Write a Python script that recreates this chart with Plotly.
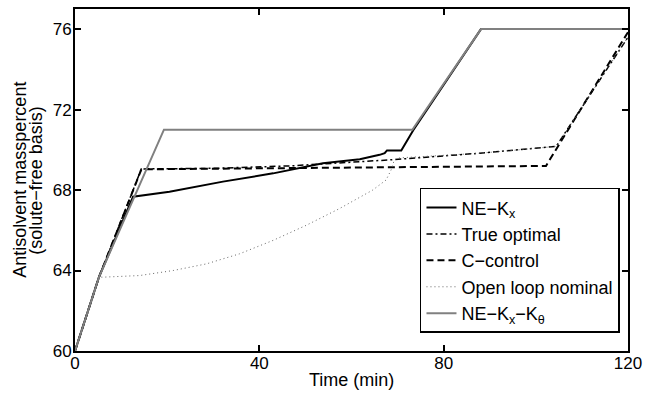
import plotly.graph_objects as go

# NE-Kx
ne_kx_t = [0, 5.2, 12.6, 20.5, 32.1, 43.0, 53.8, 61.8, 66.1, 67.2, 67.7, 70.8, 73.4, 88.1, 120]
ne_kx_y = [60, 63.67, 67.67, 67.92, 68.42, 68.83, 69.33, 69.53, 69.75, 69.83, 69.97, 69.97, 70.97, 76, 76]

# True optimal
opt_t = [0, 5.2, 14.4, 30, 46.6, 61.8, 68.3, 87.8, 96.4, 104.4, 120]
opt_y = [60, 63.67, 69.05, 69.08, 69.2, 69.42, 69.5, 69.83, 70.0, 70.17, 75.6]

# C-control
cc_t = [0, 5.2, 14.4, 40, 70, 102.2, 120]
cc_y = [60, 63.67, 69.03, 69.08, 69.12, 69.2, 75.85]

# Open loop nominal
ol_t = [0, 5.2, 6.1, 14.0, 21.3, 28.5, 35.7, 43.0, 50.2, 57.4, 64.6, 67.5, 68.6, 69.3, 70.4, 87.8, 96.4, 104.4, 120]
ol_y = [60, 63.67, 63.67, 63.75, 64.0, 64.33, 64.83, 65.5, 66.25, 67.08, 68.0, 68.5, 69.0, 69.5, 69.6, 69.83, 70.0, 70.17, 75.6]

# NE-Kx-Ktheta
nek_t = [0, 5.2, 19.3, 73.2, 88.1, 120]
nek_y = [60, 63.67, 71, 71, 76, 76]

x_ticks = [0, 40, 80, 120]
y_ticks = [60, 64, 68, 72, 76]

names = ["NE\u2212K<sub>x</sub>", "True optimal", "C\u2212control", "Open loop nominal",
         "NE\u2212K<sub>x</sub>\u2212K<sub>\u03b8</sub>"]
x_title = "Time (min)"
y_title_1 = "Antisolvent masspercent"
y_title_2 = "(solute\u2212free basis)"

fig = go.Figure()
fig.add_trace(go.Scatter(x=ne_kx_t, y=ne_kx_y, mode="lines", name=names[0], legendgroup="a",
                         line=dict(color="black", width=2)))
fig.add_trace(go.Scatter(x=opt_t, y=opt_y, mode="lines", name=names[1], legendgroup="b",
                         line=dict(color="black", width=1.5, dash="6px,3px,2px,3px")))
fig.add_trace(go.Scatter(x=cc_t, y=cc_y, mode="lines", name=names[2], legendgroup="c",
                         line=dict(color="black", width=2, dash="7px,4px")))
fig.add_trace(go.Scatter(x=ol_t, y=ol_y, mode="lines", name=names[3], legendgroup="d",
                         line=dict(color="#666666", width=1, dash="1px,3px")))
fig.add_trace(go.Scatter(x=nek_t, y=nek_y, mode="lines", name=names[4], legendgroup="e",
                         line=dict(color="#808080", width=2)))

font = "Liberation Sans, Arial, Helvetica, sans-serif"
axis_common = dict(showline=True, linecolor="black", linewidth=2, mirror="ticks",
                   ticks="inside", ticklen=6, tickwidth=1.5, tickcolor="black",
                   showgrid=False, zeroline=False, automargin=False,
                   tickfont=dict(family=font, size=17, color="black"))

fig.update_layout(
    width=647, height=394,
    margin=dict(l=75, r=19, t=9, b=43),
    paper_bgcolor="white", plot_bgcolor="white",
    font=dict(family=font, size=17, color="black"),
    showlegend=True,
    legend=dict(x=0.9855, xanchor="right", y=0.053, yanchor="bottom",
                bgcolor="white", bordercolor="black", borderwidth=1.5,
                font=dict(family=font, size=18, color="black"),
                tracegroupgap=0, itemwidth=30),
    xaxis=dict(range=[0, 120], tickvals=x_ticks, ticktext=[str(v) for v in x_ticks],
               ticklabelstandoff=-4, **axis_common),
    yaxis=dict(range=[60, 77], tickvals=y_ticks, ticktext=[str(v) for v in y_ticks],
               ticklabelstandoff=-2, **axis_common),
    annotations=[
        dict(text=x_title, xref="paper", yref="paper", x=0.5, y=-0.085, xanchor="center",
             yanchor="middle", showarrow=False, font=dict(family=font, size=18, color="black")),
        dict(text=y_title_1, xref="paper", yref="paper", x=-0.100, y=0.5, xanchor="center",
             yanchor="middle", textangle=-90, showarrow=False,
             font=dict(family=font, size=18, color="black")),
        dict(text=y_title_2, xref="paper", yref="paper", x=-0.071, y=0.5, xanchor="center",
             yanchor="middle", textangle=-90, showarrow=False,
             font=dict(family=font, size=18, color="black")),
    ],
)

fig.write_html("out.html", config={"displayModeBar": False},
               post_script="document.body.style.margin='0';document.body.style.overflow='hidden';")
